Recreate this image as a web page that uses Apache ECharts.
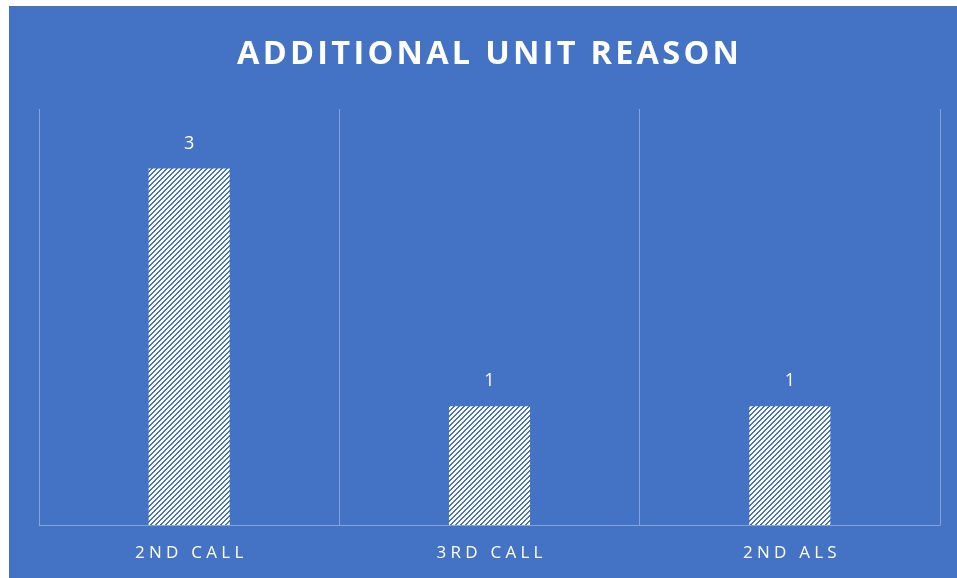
<!DOCTYPE html>
<html><head><meta charset="utf-8">
<script src="https://cdn.jsdelivr.net/npm/echarts@6/dist/echarts.min.js"></script>
<style>
html,body{margin:0;padding:0;background:#fff;}
#c{position:absolute;left:9px;top:6px;width:948px;height:572px;}
</style></head>
<body><div id="c"></div>
<script>
const titleText = 'ADDITIONAL UNIT REASON';
const categories = ['2ND CALL', '3RD CALL', '2ND ALS'];
const values = [3, 1, 1];
const yMax = 3.5;

function spaced(s, sep){ return s.split('').join(sep); }

const P = 5;
const tile = document.createElement('canvas');
tile.width = P; tile.height = P;
const tc = tile.getContext('2d');
tc.fillStyle = '#ffffff'; tc.fillRect(0,0,P,P);
tc.fillStyle = '#4472C4';
for (let i=0;i<P;i++){
  tc.fillRect((P-1-i) % P, i, 1, 1);
  tc.fillRect((P-i) % P, i, 1, 1);
}

const chart = echarts.init(document.getElementById('c'), null, {renderer:'canvas'});
chart.setOption({
  backgroundColor: '#4472C4',
  animation: false,
  title: {
    text: spaced(titleText, '\u200A'),
    left: 228, top: 27, padding:[5,0,5,0],
    textStyle: {color:'#fff', fontFamily:'Open Sans', fontWeight:'bold', fontSize:32.5}
  },
  grid: {left:30, right:17, top:103, bottom:53, containLabel:false},
  xAxis: {
    type:'category', data: categories,
    axisLine:{show:true, lineStyle:{color:'rgba(255,255,255,0.35)', width:1}},
    axisTick:{show:false},
    splitLine:{show:true, lineStyle:{color:'rgba(255,255,255,0.35)', width:1}},
    axisLabel:{color:'#fff', fontFamily:'Open Sans', fontSize:17, margin:20,
      formatter: v => spaced(v, '\u2005')}
  },
  yAxis: {type:'value', min:0, max:yMax, show:false, splitLine:{show:false}},
  series: [{
    type:'bar', data: values, barWidth:'27%',
    itemStyle:{color:{image: tile, repeat:'repeat'}},
    label:{show:true, position:'top', distance:16, color:'#fff', fontFamily:'Open Sans', fontSize:18}
  }]
});
</script></body></html>
